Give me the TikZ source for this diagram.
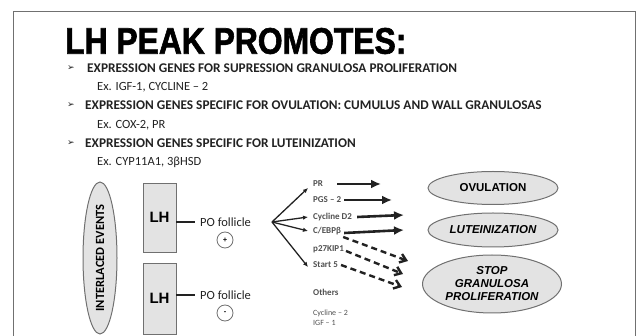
\documentclass[tikz,border=0pt]{standalone}
\usepackage{fontspec}
\setmainfont{Carlito}
\newfontfamily\headfont{Liberation Sans}
\newfontfamily\titlefont[FakeStretch=0.86,FakeBold=1.6]{Liberation Sans}
\newfontfamily\symfont{DejaVu Sans}
\usetikzlibrary{arrows.meta,positioning,shapes.geometric}
\definecolor{slidegray}{HTML}{E3E3E3}
\definecolor{rimgray}{HTML}{707070}
\definecolor{inkdark}{HTML}{222222}
\definecolor{labelgray}{HTML}{505050}

\begin{document}
\begin{tikzpicture}[
  x=1pt, y=-1pt,
  heading/.style={anchor=west, inner sep=0pt, font=\titlefont\bfseries\fontsize{37}{37}\selectfont, text=black},
  point/.style={anchor=west, inner sep=0pt, font=\bfseries\fontsize{13.3}{15}\selectfont, text=inkdark},
  example/.style={anchor=west, inner sep=0pt, font=\fontsize{12.5}{14}\selectfont, text=inkdark},
  pointer/.style={inner sep=0pt, font=\symfont\fontsize{9}{9}\selectfont, text=inkdark},
  lhbox/.style={draw=rimgray, fill=slidegray, line width=0.8pt, minimum width=33pt, inner sep=0pt, font=\headfont\bfseries\fontsize{15}{15}\selectfont},
  outcome/.style={ellipse, draw=rimgray, fill=slidegray, line width=1pt, inner sep=0pt, align=center, font=\headfont\bfseries\fontsize{11.5}{13}\selectfont},
  gene/.style={anchor=west, inner sep=0pt, font=\bfseries\fontsize{9}{10}\selectfont, text=labelgray},
  follicle/.style={anchor=west, inner sep=0pt, font=\fontsize{12.5}{14}\selectfont, text=inkdark},
  sign/.style={circle, draw=rimgray, line width=0.8pt, minimum size=16pt, inner sep=0pt, font=\bfseries\fontsize{8}{8}\selectfont},
  link/.style={line width=2pt, draw=inkdark},
  fan/.style={-{Latex[length=5pt,width=4.5pt]}, line width=1.3pt, draw=inkdark},
  push/.style={-{Latex[length=10pt,width=9pt]}, line width=2.6pt, draw=inkdark},
  hint/.style={-{Straight Barb[length=6pt,width=9pt]}, dash pattern=on 6pt off 4pt, line width=2.4pt, draw=inkdark}
]
\useasboundingbox (0,0) rectangle (637,336);
\draw[rimgray, line width=1pt] (13,336) -- (13,12) -- (635,12) -- (635,336);

% heading and list
\node[heading] (title) at (65,41) {LH PEAK PROMOTES:};
\node[pointer] (b1) at (71,68) {➢};
\node[point] (pt1) at (87,68) {EXPRESSION GENES FOR SUPRESSION GRANULOSA PROLIFERATION};
\node[example] (ex1) at (97,87) {Ex. IGF-1, CYCLINE – 2};
\node[pointer] (b2) at (71,105) {➢};
\node[point] (pt2) at (85,105) {EXPRESSION GENES SPECIFIC FOR OVULATION: CUMULUS AND WALL GRANULOSAS};
\node[example] (ex2) at (97,125) {Ex. COX-2, PR};
\node[pointer] (b3) at (71,143) {➢};
\node[point] (pt3) at (85,143) {EXPRESSION GENES SPECIFIC FOR LUTEINIZATION};
\node[example] (ex3) at (97,162) {Ex. CYP11A1, 3βHSD};

% left column
\node[outcome, rotate=90, minimum width=152pt, minimum height=34pt, font=\bfseries\fontsize{12.5}{12}\selectfont] (events) at (100,258) {INTERLACED EVENTS};
\node[lhbox, minimum height=69pt] (lh1) at (159.5,217.5) {LH};
\node[lhbox, minimum height=71pt] (lh2) at (159.5,298.5) {LH};
\node[follicle] (po1) at (200,222) {PO follicle};
\node[follicle] (po2) at (200,295) {PO follicle};
\node[sign] (plus) at (225,240) {+};
\node[sign] (minus) at (225,313) {-};
\draw[link] (lh1.east |- po1.west) -- ([xshift=-5pt]po1.west);
\draw[link] (lh2.east |- po2.west) -- ([xshift=-5pt]po2.west);

% genes
\coordinate (hub) at (272,222);
\node[gene] (pr) at (313,184) {PR};
\node[gene] (pgs) at (313,200) {PGS – 2};
\node[gene] (cycd) at (313,217) {Cycline D2};
\node[gene] (cebp) at (313,231) {C/EBPβ};
\node[gene] (pkip) at (313,249) {p27KIP1};
\node[gene] (star) at (313,265) {Start 5};
\node[gene] (others) at (313,292) {Others};
\node[gene, font=\fontsize{8}{9}\selectfont] (cyc2) at (313,313) {Cycline – 2};
\node[gene, font=\fontsize{8}{9}\selectfont] (igf) at (313,323) {IGF – 1};

\draw[fan] (hub) -- ([xshift=-5pt,yshift=-4pt]pr.west);
\draw[fan] (hub) -- ([xshift=-5pt]cycd.west);
\draw[fan] (hub) -- ([xshift=-5pt]cebp.west);
\draw[fan] (hub) -- ([xshift=-5pt,yshift=-2pt]star.west);

% outcomes
\node[outcome, minimum width=130pt, minimum height=33pt] (ovu) at (493,188) {OVULATION};
\node[outcome, minimum width=130pt, minimum height=34pt, font=\headfont\bfseries\itshape\fontsize{11.5}{13}\selectfont] (lut) at (493,230) {LUTEINIZATION};
\node[outcome, minimum width=139pt, minimum height=58pt, font=\headfont\bfseries\itshape\fontsize{11.5}{13}\selectfont] (stop) at (492,284) {STOP\\GRANULOSA\\PROLIFERATION};

\coordinate (prtip) at (381,184);
\coordinate (pgstip) at (392,200);
\coordinate (cycdtip) at (404,215);
\coordinate (cebptip) at (404,230);
\coordinate (cebpend) at (408,261);
\coordinate (pkipend) at (403,274);
\coordinate (starend) at (402,287);
\draw[push] ([xshift=14pt]pr.east) -- (prtip);
\draw[push] ([xshift=3pt]pgs.east) -- (pgstip);
\draw[push] ([xshift=5pt]cycd.east) -- (cycdtip);
\draw[push] ([xshift=3pt,yshift=-2pt]cebp.east) -- (cebptip);
\draw[hint] ([xshift=2pt,yshift=-6pt]cebp.east) -- (cebpend);
\draw[hint] ([xshift=2pt,yshift=-2pt]pkip.east) -- (pkipend);
\draw[hint] ([xshift=3pt]star.east) -- (starend);
\end{tikzpicture}
\end{document}
